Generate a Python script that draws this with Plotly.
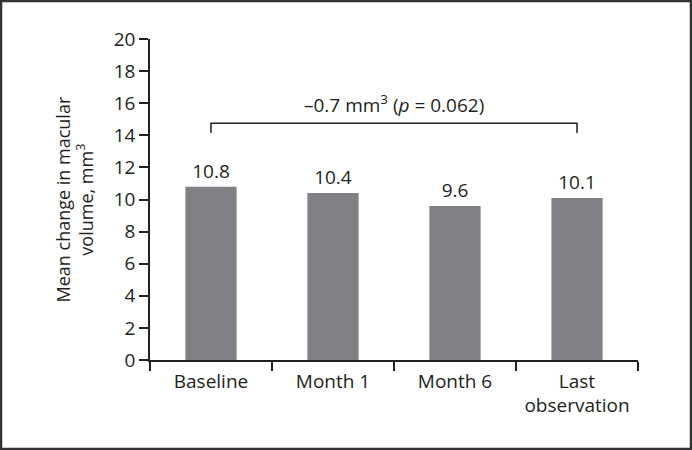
import plotly.graph_objects as go

categories = ["Baseline", "Month 1", "Month 6", "Last<br>observation"]
values = [10.8, 10.4, 9.6, 10.1]
value_labels = ["10.8", "10.4", "9.6", "10.1"]
y_ticks = [0, 2, 4, 6, 8, 10, 12, 14, 16, 18, 20]

bracket_x = [categories[0], categories[0], categories[3], categories[3]]
bracket_y = [14.15, 14.75, 14.75, 14.15]
bracket_label = "–0.7 mm<sup>3</sup> (<i>p</i> = 0.062)"
bracket_label_y = 15.95

FONT = "Open Sans"
DARK = "#231f20"
BAR = "#808184"
FS = 19

W, H = 692, 450
L, R, T, B = 150, 54, 39, 90
pw, ph = W - L - R, H - T - B

fig = go.Figure()
fig.add_trace(go.Bar(
    x=categories, y=values, width=0.42,
    marker=dict(color=BAR, line=dict(width=0)),
    text=value_labels, textposition="outside", cliponaxis=False,
    textfont=dict(family=FONT, size=FS, color=DARK),
    hoverinfo="skip",
))
fig.add_trace(go.Scatter(
    x=bracket_x, y=bracket_y, mode="lines",
    line=dict(color=DARK, width=1.5), hoverinfo="skip", cliponaxis=False,
))

fig.add_annotation(
    x=1.5, y=bracket_label_y, xref="x", yref="y", text=bracket_label,
    showarrow=False, font=dict(family=FONT, size=FS, color=DARK),
    xanchor="center", yanchor="middle",
)
fig.add_annotation(
    x=(74 - L) / pw, y=0.5, xref="paper", yref="paper",
    text="Mean change in macular<br>volume, mm<sup>3</sup>",
    textangle=-90, showarrow=False,
    font=dict(family=FONT, size=18, color=DARK),
    xanchor="center", yanchor="middle",
)
# outer border
fig.add_shape(
    type="rect", xref="paper", yref="paper",
    x0=(1 - L) / pw, x1=(W - 1 - L) / pw,
    y0=-(H - 1 - T - ph) / ph, y1=1 + (T - 1) / ph,
    line=dict(color="#333333", width=2.5), layer="above",
)

fig.update_layout(
    width=W, height=H,
    margin=dict(l=L, r=R, t=T, b=B, pad=0),
    paper_bgcolor="white", plot_bgcolor="white",
    showlegend=False,
    font=dict(family=FONT, size=FS, color=DARK),
    xaxis=dict(
        type="category", tickson="boundaries", ticks="outside", ticklen=9,
        tickwidth=1.5, tickcolor=DARK, showline=True, linecolor=DARK,
        linewidth=1.5, showgrid=False, zeroline=False,
        tickfont=dict(family=FONT, size=FS, color=DARK),
        ticklabelstandoff=3,
        range=[-0.5, 3.5],
    ),
    yaxis=dict(
        range=[0, 20], tickvals=y_ticks, ticks="outside", ticklen=9,
        tickwidth=1.5, tickcolor=DARK, showline=True, linecolor=DARK,
        linewidth=1.5, showgrid=False, zeroline=False,
        tickfont=dict(family=FONT, size=FS, color=DARK),
    ),
)

fig.write_html("out.html", config={"displayModeBar": False},
               post_script="document.body.style.margin='0';")
